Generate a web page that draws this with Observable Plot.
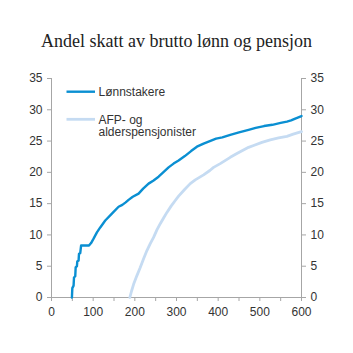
<!DOCTYPE html>
<html>
<head>
<meta charset="utf-8">
<script src="https://cdn.jsdelivr.net/npm/d3@7"></script>
<script src="https://cdn.jsdelivr.net/npm/@observablehq/plot@0.6"></script>
<style>
  html, body { margin: 0; padding: 0; background: #fff; }
  #title { height: 60px; width: 353px; box-sizing: border-box; padding-top: 32px;
    font-family: "Liberation Serif", "Times New Roman", serif; font-size: 18px;
    color: #222; text-align: center; line-height: 18px; }
  #chart svg { display: block; }
</style>
</head>
<body>
<div id="title">Andel skatt av brutto lønn og pensjon</div>
<div id="chart"></div>
<script>
const seriesNames = ["Lønnstakere", "AFP- og alderspensjonister"];

const lonnX = [49, 50, 53, 54, 57, 58, 61, 62, 65, 66, 69, 71, 80, 90, 95, 101, 109, 117, 129, 145, 161, 170, 178, 185, 195, 209, 220, 233, 245, 257, 270, 281, 293, 305, 320, 335, 349, 365, 380, 395, 410, 429, 450, 473, 490, 510, 530, 550, 565, 575, 585, 600];
const lonnY = [0, 1.5, 1.9, 3.2, 3.4, 4.8, 5.0, 5.8, 5.9, 7.0, 7.1, 8.3, 8.3, 8.3, 8.7, 9.4, 10.4, 11.2, 12.3, 13.4, 14.5, 14.8, 15.2, 15.6, 16.1, 16.6, 17.4, 18.2, 18.7, 19.3, 20.1, 20.8, 21.4, 21.9, 22.6, 23.4, 24.1, 24.6, 25.0, 25.4, 25.6, 26.0, 26.4, 26.8, 27.1, 27.4, 27.6, 27.9, 28.1, 28.3, 28.6, 29.0];

const pensX = [188, 192, 197, 205, 213, 221, 229, 237, 245, 253, 261, 269, 277, 287, 297, 305, 320, 333, 345, 365, 380, 389, 405, 429, 445, 473, 485, 505, 525, 545, 565, 580, 600];
const pensY = [0, 1.0, 2.1, 3.5, 4.8, 6.2, 7.5, 8.6, 9.6, 10.8, 11.8, 12.7, 13.6, 14.6, 15.5, 16.2, 17.3, 18.2, 18.8, 19.6, 20.3, 20.8, 21.4, 22.4, 23.0, 24.0, 24.3, 24.8, 25.2, 25.5, 25.75, 26.1, 26.5];

const xDomain = [0, 600];
const yDomain = [0, 35];
const xTicks = d3.range(0, 601, 50);
const xLabelTicks = [0, 100, 200, 300, 400, 500, 600];
const yTicks = [0, 5, 10, 15, 20, 25, 30, 35];

const colors = ["#0a8fd2", "#c5dbf2"];

const lonn = lonnX.map((x, i) => ({x, y: lonnY[i]}));
const pens = pensX.map((x, i) => ({x, y: pensY[i]}));

const axisColor = "#a6a6a6";
const textColor = "#333";

const plot = Plot.plot({
  width: 353,
  height: 293,
  marginTop: 18,
  marginBottom: 56,
  marginLeft: 51,
  marginRight: 52,
  style: {fontFamily: "'Liberation Sans', Arial, sans-serif", fontSize: "12px", color: textColor, background: "#fff"},
  x: {domain: xDomain},
  y: {domain: yDomain},
  marks: [
    Plot.ruleX(xDomain, {stroke: axisColor, strokeWidth: 1}),
    Plot.ruleY([yDomain[0]], {stroke: axisColor, strokeWidth: 1}),
    Plot.axisY({anchor: "left", ticks: yTicks, tickSize: 4, tickPadding: 5, stroke: axisColor, fill: textColor, label: null}),
    Plot.axisY({anchor: "right", ticks: yTicks, tickSize: 4, tickPadding: 5, stroke: axisColor, fill: textColor, label: null}),
    Plot.axisX({ticks: xTicks, tickSize: 4, tickPadding: 6, stroke: axisColor, fill: textColor, label: null,
      tickFormat: d => (xLabelTicks.includes(d) ? String(d) : "")}),
    Plot.line(pens, {x: "x", y: "y", stroke: colors[1], strokeWidth: 2.8}),
    Plot.line(lonn, {x: "x", y: "y", stroke: colors[0], strokeWidth: 2.4})
  ]
});

// Legend inside the plot area
const svg = d3.select(plot);
const lg = svg.append("g")
  .attr("font-family", "'Liberation Sans', Arial, sans-serif")
  .attr("font-size", 12)
  .attr("text-anchor", "start")
  .attr("fill", textColor);
const entries = [
  {lines: [seriesNames[0]], y: 31.7, color: colors[0], w: 2.4},
  {lines: ["AFP- og", "alderspensjonister"], y: 59.3, color: colors[1], w: 2.8}
];
entries.forEach(e => {
  lg.append("line").attr("x1", 66.5).attr("x2", 95).attr("y1", e.y).attr("y2", e.y)
    .attr("stroke", e.color).attr("stroke-width", e.w);
  e.lines.forEach((t, i) => {
    lg.append("text").attr("x", 98.5).attr("y", e.y + 4.3 + i * 12.5)
      .attr("text-anchor", "start").text(t);
  });
});

document.getElementById("chart").appendChild(plot);
</script>
</body>
</html>
